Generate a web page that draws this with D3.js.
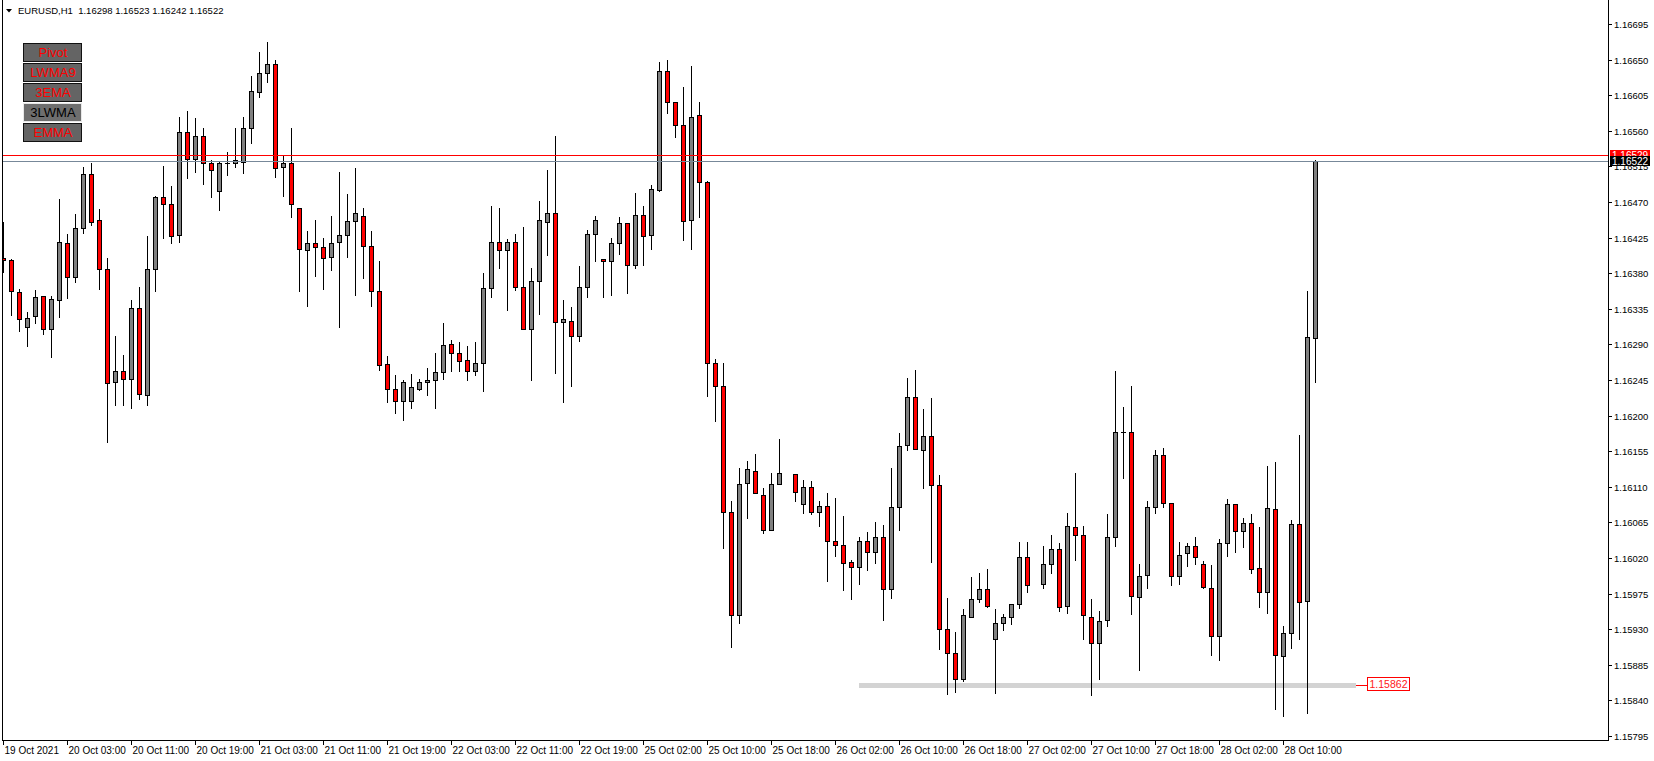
<!DOCTYPE html>
<html><head><meta charset="utf-8">
<script src="https://cdn.jsdelivr.net/npm/d3@7"></script>
<style>body{margin:0;background:#fff;overflow:hidden} svg{display:block} text{font-family:"Liberation Sans",Arial,sans-serif}</style>
</head><body><svg id="c" width="1654" height="761"></svg>
<script>
// ---- data (EURUSD H1) ----
const symbol = "EURUSD,H1";
const open = [
1.16399,1.16397,1.16356,1.16312,1.16326,1.16351,1.16310,1.16346,1.16418,1.16375,
1.16437,1.16506,1.16447,1.16385,1.16242,1.16257,1.16246,1.16336,1.16226,1.16385,
1.16476,1.16468,1.16428,1.16559,1.16524,1.16553,1.16519,1.16484,1.16519,1.16519,
1.16521,1.16564,1.16609,1.16633,1.16645,1.16514,1.16519,1.16463,1.16409,1.16418,
1.16413,1.16400,1.16419,1.16428,1.16446,1.16452,1.16414,1.16357,1.16265,1.16234,
1.16218,1.16219,1.16234,1.16242,1.16245,1.16255,1.16290,1.16279,1.16270,1.16257,
1.16266,1.16361,1.16419,1.16409,1.16419,1.16363,1.16309,1.16370,1.16445,1.16456,
1.16318,1.16320,1.16301,1.16362,1.16430,1.16398,1.16395,1.16418,1.16444,1.16390,
1.16453,1.16428,1.16485,1.16636,1.16596,1.16567,1.16447,1.16580,1.16495,1.16266,
1.16237,1.16078,1.15948,1.16115,1.16130,1.16100,1.16056,1.16114,null,1.16126,
1.16088,1.16110,1.16078,1.16086,1.16041,1.16037,1.16015,1.16008,1.16042,1.16027,
1.16047,1.15981,1.16085,1.16163,1.16224,1.16156,1.16174,1.16112,1.15930,1.15900,
1.15867,1.15946,1.15968,1.15981,1.15917,1.15938,1.15946,1.15962,1.16021,null,
1.15987,1.16012,1.16031,1.15959,1.16059,1.16049,1.15946,1.15913,1.15941,1.16046,
1.16179,1.16179,1.15971,1.15998,1.16084,1.16150,1.16090,1.15997,1.16026,1.16035,
1.16012,1.15982,1.15922,1.16039,1.16088,1.16054,1.16064,1.16007,1.15977,1.16082,
1.15896,1.15925,1.16063,1.15966,1.16298];
const high = [
1.16445,1.16398,1.16360,1.16331,1.16359,1.16351,1.16351,1.16474,1.16430,1.16455,
1.16514,1.16519,1.16461,1.16399,1.16301,1.16277,1.16346,1.16362,1.16427,1.16478,
1.16515,1.16490,1.16577,1.16585,1.16576,1.16564,1.16523,1.16520,1.16533,1.16563,
1.16578,1.16629,1.16659,1.16672,1.16649,1.16530,1.16564,1.16463,1.16433,1.16447,
1.16425,1.16452,1.16508,1.16480,1.16513,1.16462,1.16433,1.16395,1.16275,1.16251,
1.16245,1.16252,1.16246,1.16260,1.16279,1.16317,1.16295,1.16293,1.16288,1.16293,
1.16380,1.16465,1.16462,1.16423,1.16429,1.16438,1.16386,1.16471,1.16510,1.16553,
1.16346,1.16337,1.16389,1.16434,1.16452,1.16398,1.16425,1.16451,1.16444,1.16481,
1.16465,1.16492,1.16647,1.16649,1.16597,1.16615,1.16642,1.16596,1.16497,1.16271,
1.16266,1.16092,1.16134,1.16142,1.16152,1.16108,1.16127,1.16170,null,1.16126,
1.16118,1.16117,1.16092,1.16102,1.16096,1.16073,1.16017,1.16046,1.16053,1.16065,
1.16062,1.16134,1.16178,1.16247,1.16258,1.16208,1.16222,1.16125,1.15969,1.15926,
1.15955,1.15996,1.16001,1.16006,1.15955,1.15949,1.15962,1.16040,1.16040,null,
1.16035,1.16049,1.16039,1.16077,1.16128,1.16061,1.15968,1.15953,1.16075,1.16256,
1.16211,1.16237,1.16012,1.16092,1.16157,1.16159,1.16090,1.16040,1.16039,1.16047,
1.16016,1.16011,1.16044,1.16094,1.16088,1.16070,1.16075,1.16059,1.16136,1.16141,
1.15934,1.16068,1.16176,1.16357,1.16523];
const low = [
1.16382,1.16327,1.16307,1.16288,1.16317,1.16303,1.16274,1.16325,1.16349,1.16369,
1.16431,1.16441,1.16360,1.16166,1.16213,1.16214,1.16209,1.16221,1.16214,1.16358,
1.16425,1.16418,1.16419,1.16500,1.16508,1.16493,1.16476,1.16460,1.16504,1.16514,
1.16507,1.16545,1.16603,1.16622,1.16502,1.16478,1.16451,1.16358,1.16338,1.16376,
1.16360,1.16384,1.16312,1.16400,1.16353,1.16374,1.16338,1.16258,1.16217,1.16203,
1.16194,1.16209,1.16232,1.16226,1.16209,1.16246,1.16257,1.16256,1.16245,1.16251,
1.16231,1.16350,1.16387,1.16334,1.16359,1.16309,1.16245,1.16329,1.16403,1.16254,
1.16217,1.16238,1.16294,1.16350,1.16396,1.16350,1.16352,1.16404,1.16355,1.16387,
1.16390,1.16411,1.16484,1.16582,1.16552,1.16422,1.16410,1.16451,1.16225,1.16193,
1.16033,1.15907,1.15938,1.16070,1.16102,1.16051,1.16056,1.16114,null,1.16092,
1.16077,1.16076,1.16061,1.15991,1.16022,1.15979,1.15968,1.15987,1.16005,1.16014,
1.15942,1.15970,1.16055,1.16157,1.16158,1.16109,1.16015,1.15905,1.15848,1.15850,
1.15864,1.15945,1.15964,1.15958,1.15849,1.15929,1.15936,1.15957,1.15977,null,
1.15982,1.16001,1.15953,1.15951,1.16018,1.15917,1.15847,1.15867,1.15934,1.16035,
1.16121,1.15949,1.15878,1.15982,1.16077,1.16085,1.15986,1.15987,1.16010,1.16013,
1.15982,1.15898,1.15891,1.16022,1.16027,1.16034,1.16001,1.15958,1.15950,1.15829,
1.15820,1.15906,1.15918,1.15824,1.16242];
const close = [
1.16397,1.16357,1.16322,1.16324,1.16350,1.16309,1.16347,1.16419,1.16375,1.16437,
1.16505,1.16445,1.16385,1.16241,1.16257,1.16246,1.16336,1.16227,1.16385,1.16476,
1.16468,1.16427,1.16558,1.16524,1.16553,1.16519,1.16510,1.16519,1.16519,1.16523,
1.16564,1.16610,1.16633,1.16645,1.16513,1.16519,1.16467,1.16410,1.16418,1.16413,
1.16399,1.16418,1.16428,1.16446,1.16456,1.16414,1.16357,1.16264,1.16234,1.16218,
1.16242,1.16236,1.16243,1.16245,1.16255,1.16289,1.16279,1.16269,1.16256,1.16267,
1.16361,1.16419,1.16409,1.16419,1.16363,1.16309,1.16370,1.16447,1.16456,1.16318,
1.16322,1.16301,1.16363,1.16430,1.16447,1.16395,1.16418,1.16443,1.16390,1.16453,
1.16427,1.16486,1.16635,1.16597,1.16567,1.16446,1.16578,1.16495,1.16266,1.16237,
1.16078,1.15948,1.16114,1.16132,1.16102,1.16056,1.16114,1.16128,null,1.16103,
1.16110,1.16078,1.16086,1.16041,1.16037,1.16014,1.16008,1.16042,1.16027,1.16047,
1.15981,1.16085,1.16162,1.16224,1.16158,1.16174,1.16112,1.15930,1.15900,1.15867,
1.15948,1.15968,1.15981,1.15959,1.15938,1.15945,1.15962,1.16021,1.15986,null,
1.16012,1.16031,1.15958,1.16060,1.16049,1.15948,1.15912,1.15940,1.16046,1.16179,
1.16179,1.15972,1.15997,1.16085,1.16150,1.16090,1.15997,1.16024,1.16035,1.16021,
1.15983,1.15922,1.16039,1.16088,1.16054,1.16064,1.16006,1.15977,1.16083,1.15897,
1.15925,1.16063,1.15965,1.16299,1.16522];
const timeLabels = ["19 Oct 2021","20 Oct 03:00","20 Oct 11:00","20 Oct 19:00","21 Oct 03:00","21 Oct 11:00",
  "21 Oct 19:00","22 Oct 03:00","22 Oct 11:00","22 Oct 19:00","25 Oct 02:00","25 Oct 10:00","25 Oct 18:00",
  "26 Oct 02:00","26 Oct 10:00","26 Oct 18:00","27 Oct 02:00","27 Oct 10:00","27 Oct 18:00","28 Oct 02:00","28 Oct 10:00"];
const barsPerLabel = 8;
const priceTicks = ["1.16695","1.16650","1.16605","1.16560","1.16515","1.16470","1.16425","1.16380","1.16335",
  "1.16290","1.16245","1.16200","1.16155","1.16110","1.16065","1.16020","1.15975","1.15930","1.15885","1.15840","1.15795"];
const buttons = ["Pivot","LWMA9","3EMA","3LWMA","EMMA"];
const buttonActive = [false,false,false,true,false];
const bidPrice = 1.16522, askPrice = 1.16529;
const supportLevel = 1.15862;

// ---- layout ----
const W = 1654, H = 761;
const L = 2, R = 1608, T = 0, B = 740;
const svg = d3.select("#c");
svg.append("rect").attr("width",W).attr("height",H).attr("fill","#fff");

const x = d3.scaleLinear().domain([0, 200]).range([3, 1603]);
const y = d3.scaleLinear().domain([1.15795, 1.16695]).range([736, 24]);
const fmt = d3.format(".5f");

svg.append("defs").append("clipPath").attr("id","plot")
  .append("rect").attr("x",L+1).attr("y",T).attr("width",R-L-1).attr("height",B-T);

// frame
svg.append("path").attr("d",`M${L+0.5},${T} V${B+0.5} H${R+0.5} V${T}`)
  .attr("fill","none").attr("stroke","#000").attr("stroke-width",1).attr("shape-rendering","crispEdges");

// price axis
const pg = svg.append("g");
priceTicks.forEach(t => {
  const py = Math.round(y(+t)) + 0.5;
  pg.append("line").attr("x1",R).attr("x2",R+4).attr("y1",py).attr("y2",py)
    .attr("stroke","#000").attr("shape-rendering","crispEdges");
  pg.append("text").attr("x",R+6).attr("y",py+3.5).attr("font-size","9.5px").attr("fill","#000").text(t);
});

// time axis
const tg = svg.append("g");
timeLabels.forEach((lab,i) => {
  const tx = Math.round(x(i*barsPerLabel)) + 0.5;
  tg.append("line").attr("x1",tx).attr("x2",tx).attr("y1",B).attr("y2",B+5)
    .attr("stroke","#000").attr("shape-rendering","crispEdges");
  tg.append("text").attr("x",tx+1).attr("y",754).attr("font-size","10px").attr("fill","#000").text(lab);
});

const plot = svg.append("g").attr("clip-path","url(#plot)");

// support zone
const sy = y(supportLevel);
plot.append("rect").attr("x",859).attr("y",Math.round(sy)).attr("width",1356-859).attr("height",5).attr("fill","#d3d3d3");

// candles
const candles = open.map((o,i)=>({i,o,h:high[i],l:low[i],c:close[i]})).filter(d=>d.o!=null);
const cg = plot.append("g").attr("shape-rendering","crispEdges");
candles.forEach(d => {
  const cx = Math.round(x(d.i));
  cg.append("line").attr("x1",cx+0.5).attr("x2",cx+0.5)
    .attr("y1",Math.round(y(d.h))).attr("y2",Math.round(y(d.l))+1).attr("stroke","#000");
  const top = Math.round(y(Math.max(d.o,d.c))), bot = Math.round(y(Math.min(d.o,d.c)));
  if (bot - top < 1) {
    cg.append("line").attr("x1",cx-2).attr("x2",cx+3).attr("y1",top+0.5).attr("y2",top+0.5).attr("stroke","#000");
  } else {
    cg.append("rect").attr("x",cx-1.5).attr("y",top+0.5).attr("width",4).attr("height",bot-top)
      .attr("fill", d.c > d.o ? "#808080" : "#ff0000").attr("stroke","#000");
  }
});

// bid / ask lines
plot.append("line").attr("x1",L).attr("x2",R).attr("y1",Math.round(y(askPrice))+0.5).attr("y2",Math.round(y(askPrice))+0.5)
  .attr("stroke","#ff0000").attr("shape-rendering","crispEdges");
plot.append("line").attr("x1",L).attr("x2",R).attr("y1",Math.round(y(bidPrice))+0.5).attr("y2",Math.round(y(bidPrice))+0.5)
  .attr("stroke","#778899").attr("shape-rendering","crispEdges");

// support label
svg.append("line").attr("x1",1356).attr("x2",1367).attr("y1",Math.round(sy)+2.5).attr("y2",Math.round(sy)+2.5)
  .attr("stroke","#ff0000").attr("shape-rendering","crispEdges");
svg.append("rect").attr("x",1367.5).attr("y",Math.round(sy)-5.5).attr("width",42).attr("height",13)
  .attr("fill","#fff").attr("stroke","#ff0000").attr("shape-rendering","crispEdges");
svg.append("text").attr("x",1388.5).attr("y",Math.round(sy)+5).attr("text-anchor","middle")
  .attr("font-size","10.5px").attr("fill","#ff2020").text(fmt(supportLevel));

// axis price labels
function priceLabel(p, bg){
  const py = Math.round(y(p));
  svg.append("rect").attr("x",1610).attr("y",py-5).attr("width",40).attr("height",10).attr("fill",bg);
  svg.append("text").attr("x",1612).attr("y",py+4).attr("font-size","10px").attr("fill","#fff").text(fmt(p));
}
priceLabel(askPrice, "#ff0000");
priceLabel(bidPrice, "#000");

// header
svg.append("path").attr("d","M6,9 L12,9 L9,12.5 Z").attr("fill","#000");
const last = candles[candles.length-1];
svg.append("text").attr("x",18).attr("y",14).attr("font-size","9.5px").attr("fill","#000")
  .attr("xml:space","preserve")
  .text(`${symbol}  ${fmt(last.o)} ${fmt(last.h)} ${fmt(last.l)} ${fmt(last.c)}`);

// buttons
const bg = svg.append("g");
buttons.forEach((b,i) => {
  const by = 43 + i*20;
  bg.append("rect").attr("x",23.5).attr("y",by+0.5).attr("width",58).attr("height",18)
    .attr("fill", buttonActive[i] ? "#6e6e6e" : "#646464")
    .attr("stroke", buttonActive[i] ? "#e8e8e8" : "#111").attr("stroke-width",1).attr("shape-rendering","crispEdges");
  bg.append("text").attr("x",53).attr("y",by+14).attr("text-anchor","middle").attr("font-size","13px")
    .attr("fill", buttonActive[i] ? "#000" : "#ff0000").text(b);
});
</script></body></html>
